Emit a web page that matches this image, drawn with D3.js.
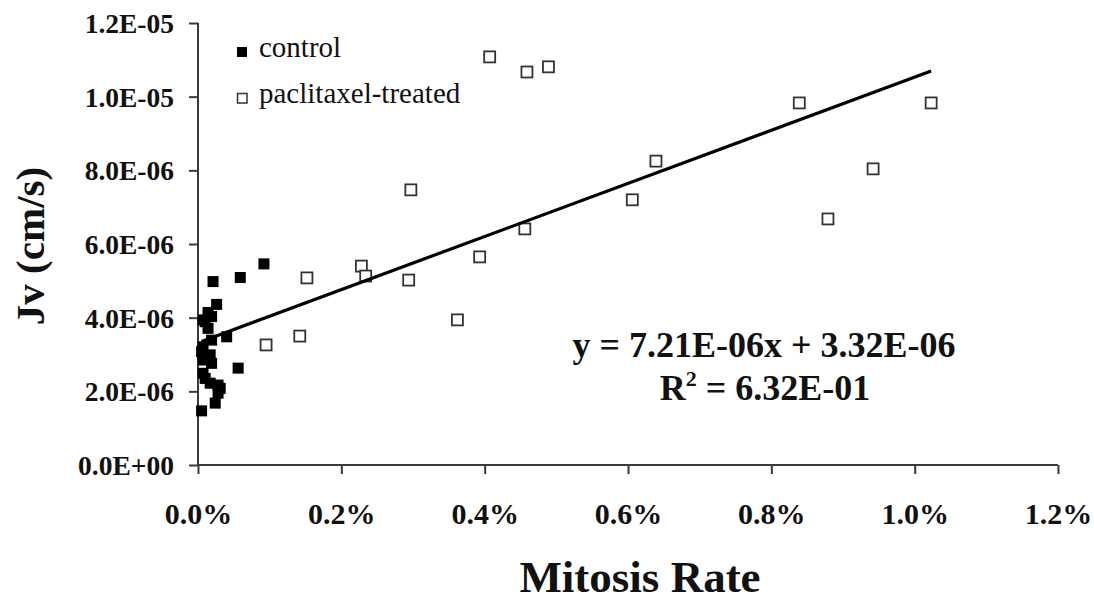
<!DOCTYPE html>
<html>
<head>
<meta charset="utf-8">
<script src="https://cdn.jsdelivr.net/npm/d3@7"></script>
<style>
  html, body { margin: 0; padding: 0; background: #fff; }
  svg { display: block; }
  svg text { font-family: "Liberation Serif", "Times New Roman", serif; }
</style>
</head>
<body>
<svg id="chart" width="1094" height="601"></svg>
<script>
// ---- data (x: mitosis rate in %, y: Jv in units of 1E-06 cm/s) ----
const controlX = [0.092, 0.059, 0.021, 0.026, 0.014, 0.007, 0.010, 0.019, 0.014, 0.040, 0.019, 0.007, 0.005, 0.017, 0.007, 0.019, 0.056, 0.007, 0.010, 0.017, 0.028, 0.031, 0.028, 0.024, 0.005];
const controlY = [5.46, 5.09, 4.98, 4.36, 4.14, 3.94, 3.89, 4.03, 3.71, 3.48, 3.39, 3.21, 3.08, 2.99, 2.85, 2.76, 2.63, 2.49, 2.35, 2.22, 2.17, 2.08, 1.95, 1.68, 1.47];

const treatedX = [0.407, 0.459, 0.489, 0.839, 1.023, 0.639, 0.297, 0.942, 0.606, 0.879, 0.456, 0.393, 0.152, 0.228, 0.234, 0.294, 0.362, 0.142, 0.095];
const treatedY = [11.08, 10.67, 10.81, 9.83, 9.83, 8.25, 7.47, 8.04, 7.20, 6.68, 6.41, 5.65, 5.08, 5.40, 5.13, 5.02, 3.94, 3.50, 3.26];

const xTicks = [0, 0.2, 0.4, 0.6, 0.8, 1.0, 1.2];
const xTickLabels = ["0.0%", "0.2%", "0.4%", "0.6%", "0.8%", "1.0%", "1.2%"];
const yTicks = [0, 2, 4, 6, 8, 10, 12];
const yTickLabels = ["0.0E+00", "2.0E-06", "4.0E-06", "6.0E-06", "8.0E-06", "1.0E-05", "1.2E-05"];

const seriesNames = ["control", "paclitaxel-treated"];
const slope = 7.21, intercept = 3.32;
const eqText = "y = 7.21E-06x + 3.32E-06";
const r2Value = "6.32E-01";
const xTitle = "Mitosis Rate";
const yTitle = "Jv (cm/s)";

// ---- layout ----
const FONT = "Liberation Serif";
const svg = d3.select("#chart");
const x = d3.scaleLinear().domain([0, 1.2]).range([198, 1058]);
const y = d3.scaleLinear().domain([0, 12]).range([465, 23]);
const axisColor = "#3a3a3a";

// axes
const xAxis = svg.append("g").attr("transform", `translate(0,${y(0)})`)
  .call(d3.axisBottom(x).tickValues(xTicks).tickSize(9).tickFormat((d, i) => xTickLabels[i]));
xAxis.attr("font-family", FONT);
xAxis.select(".domain").attr("stroke", axisColor).attr("stroke-width", 2).attr("d", `M${x(0)},0H${x(1.2)}`);
xAxis.selectAll(".tick line").attr("stroke", axisColor).attr("stroke-width", 2);
xAxis.selectAll(".tick text").attr("y", 59).attr("dy", 0)
  .attr("font-family", FONT).attr("font-weight", "bold").attr("font-size", 30).attr("fill", "#111");

const yAxis = svg.append("g").attr("transform", `translate(${x(0)},0)`)
  .call(d3.axisLeft(y).tickValues(yTicks).tickSize(9).tickFormat((d, i) => yTickLabels[i]));
yAxis.attr("font-family", FONT);
yAxis.select(".domain").attr("stroke", axisColor).attr("stroke-width", 2).attr("d", `M0,${y(12)}V${y(0)}`);
yAxis.selectAll(".tick line").attr("stroke", axisColor).attr("stroke-width", 2);
yAxis.selectAll(".tick text").attr("x", -24).attr("dy", "0.34em")
  .attr("font-family", FONT).attr("font-weight", "bold").attr("font-size", 27.5).attr("fill", "#111");

// axis titles
svg.append("text").attr("x", 640).attr("y", 592).attr("text-anchor", "middle")
  .attr("font-family", FONT).attr("font-weight", "bold").attr("font-size", 45).attr("fill", "#111").text(xTitle);
svg.append("text").attr("transform", "translate(44,246) rotate(-90)").attr("text-anchor", "middle")
  .attr("font-family", FONT).attr("font-weight", "bold").attr("font-size", 41).attr("fill", "#111").text(yTitle);

// markers
const ms = 11;
const control = controlX.map((v, i) => ({ x: v, y: controlY[i] }));
const treated = treatedX.map((v, i) => ({ x: v, y: treatedY[i] }));

svg.append("g").selectAll("rect").data(treated).join("rect")
  .attr("x", d => x(d.x) - ms / 2).attr("y", d => y(d.y) - ms / 2)
  .attr("width", ms).attr("height", ms)
  .attr("fill", "#fff").attr("stroke", "#333").attr("stroke-width", 1.8);

svg.append("g").selectAll("rect").data(control).join("rect")
  .attr("x", d => x(d.x) - ms / 2).attr("y", d => y(d.y) - ms / 2)
  .attr("width", ms).attr("height", ms).attr("fill", "#000");

// trendline across data range
const allX = controlX.concat(treatedX);
const [xmin, xmax] = d3.extent(allX);
svg.append("line")
  .attr("x1", x(xmin)).attr("y1", y(slope * xmin + intercept))
  .attr("x2", x(xmax)).attr("y2", y(slope * xmax + intercept))
  .attr("stroke", "#000").attr("stroke-width", 3.2);

// equation
const eq = svg.append("g").attr("font-family", FONT).attr("font-weight", "bold").attr("font-size", 36).attr("fill", "#111").attr("text-anchor", "middle");
eq.append("text").attr("x", 764).attr("y", 357).text(eqText);
const r2 = eq.append("text").attr("x", 765).attr("y", 400);
r2.append("tspan").text("R");
r2.append("tspan").attr("font-size", 22).attr("dy", -14).text("2");
r2.append("tspan").attr("dy", 14).text(" = " + r2Value);

// legend
const lg = svg.append("g").attr("font-family", FONT);
lg.append("rect").attr("x", 237).attr("y", 47).attr("width", 10).attr("height", 10).attr("fill", "#000");
lg.append("text").attr("x", 259).attr("y", 57).attr("font-family", FONT).attr("font-size", 29).attr("fill", "#111").text(seriesNames[0]);
lg.append("rect").attr("x", 237.5).attr("y", 93.5).attr("width", 9.5).attr("height", 9.5)
  .attr("fill", "#fff").attr("stroke", "#333").attr("stroke-width", 1.5);
lg.append("text").attr("x", 259).attr("y", 103).attr("font-family", FONT).attr("font-size", 29).attr("fill", "#111").text(seriesNames[1]);
</script>
</body>
</html>
